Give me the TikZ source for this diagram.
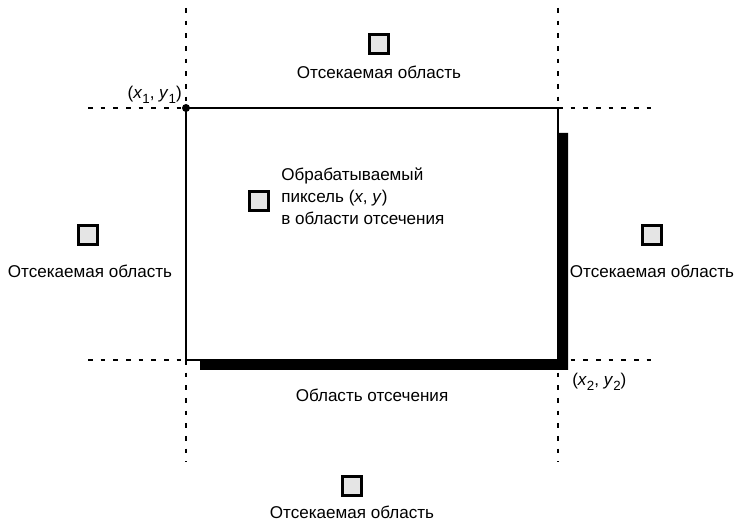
\documentclass[tikz,border=0pt]{standalone}
\usepackage{fontspec}
\setmainfont{Liberation Sans}
\newcommand{\subidx}[1]{\raisebox{-0.5ex}{\fontsize{10}{10}\selectfont #1}}
\begin{document}
\begin{tikzpicture}[x=0.75pt, y=-0.75pt,
    pix/.style={draw, line width=2pt, fill=black!10, minimum size=14pt, inner sep=0pt},
    bound/.style={line width=2.2pt, dash pattern=on 3.5pt off 6pt},
    lbl/.style={font=\fontsize{12.8}{16.5}\selectfont, inner sep=0pt}]
    \useasboundingbox (0,0) rectangle (736,523);

    % corners of the clip window
    \coordinate (tl) at (186,108);
    \coordinate (tr) at (558,108);
    \coordinate (bl) at (186,360);
    \coordinate (br) at (558,360);

    % dotted boundary lines
    \coordinate (tlup) at (186,8);
    \coordinate (tldn) at (186,462);
    \coordinate (trup) at (558,8);
    \coordinate (trdn) at (558,462);
    \coordinate (tlw) at (88,108);
    \coordinate (tre) at (656,108);
    \coordinate (blw) at (88,360);
    \coordinate (bre) at (656,360);
    \draw[bound] (tlup) -- (tl);
    \draw[bound] (bl) -- (tldn);
    \draw[bound] (trup) -- (tr);
    \draw[bound] (br) -- (trdn);
    \draw[bound] (tlw) -- (tl);
    \draw[bound] (tr) -- (tre);
    \draw[bound] (blw) -- (bl);
    \draw[bound] (br) -- (bre);

    % shadow
    \fill (558,133) -- (568,133) -- (568,370) -- (200,370) -- (200,360) -- (558,360) -- cycle;

    % window
    \draw[line width=1.8pt] (tl) -- (tr) -- (br) -- (bl) -- cycle;
    \fill (tl) circle (3pt);

    % pixels
    \node[pix] (ptop) at (379,44) {};
    \node[pix] (pleft) at (88,235) {};
    \node[pix] (pright) at (652,235) {};
    \node[pix] (pbot) at (352,486) {};
    \node[pix] (pin) at (259,201) {};

    % labels
    \node[lbl] (ltop) at (379,72) {Отсекаемая область};
    \node[lbl] (lleft) at (90,271) {Отсекаемая область};
    \node[lbl] (lright) at (652,271) {Отсекаемая область};
    \node[lbl] (lbot) at (352,512) {Отсекаемая область};
    \node[lbl] (lwin) at (372,395) {Область отсечения};
    \node[lbl, anchor=east] (lone) at (182,95) {(\textit{x}\subidx{1}, \textit{y}\subidx{1})};
    \node[lbl, anchor=west] (ltwo) at (572,382) {(\textit{x}\subidx{2}, \textit{y}\subidx{2})};
    \node[lbl, anchor=west, align=left] (lin) at (281,196)
        {Обрабатываемый\\пиксель (\textit{x}, \textit{y})\\в области отсечения};
\end{tikzpicture}
\end{document}
